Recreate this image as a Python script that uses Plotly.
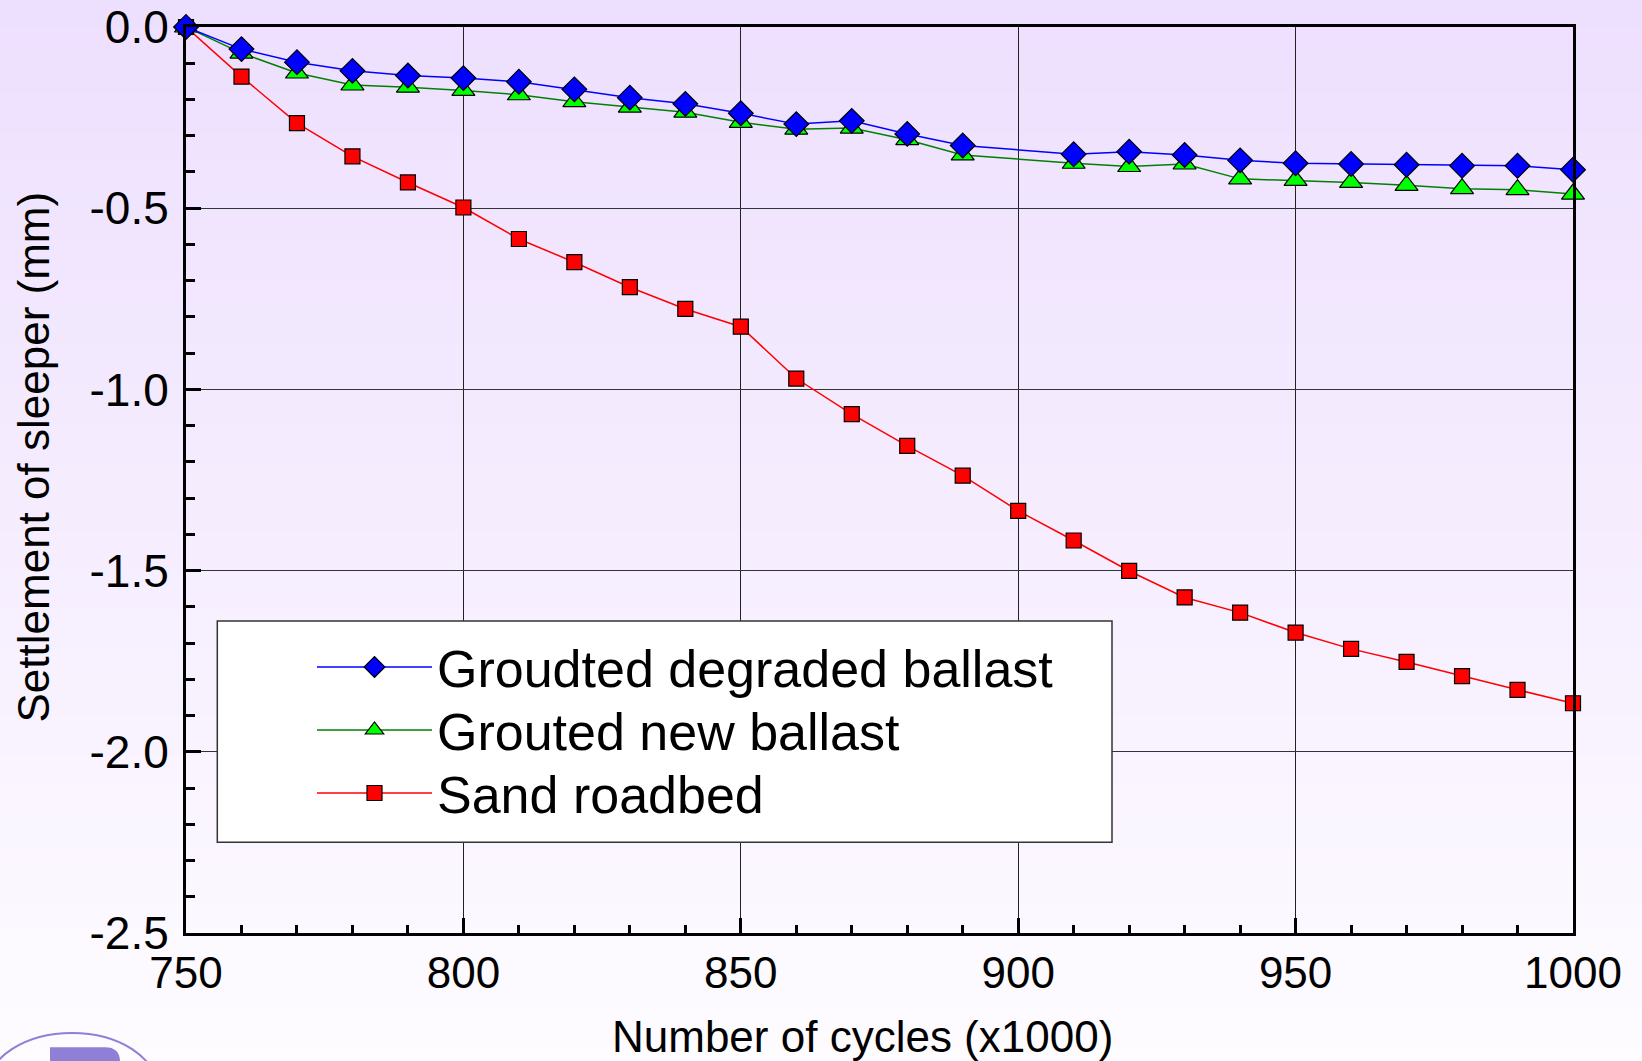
import plotly.graph_objects as go

# ---- data ----
x_grouted = [750, 760, 770, 780, 790, 800, 810, 820, 830, 840, 850, 860, 870, 880, 890,
             910, 920, 930, 940, 950, 960, 970, 980, 990, 1000]
y_degraded = [0.0, -0.061, -0.097, -0.121, -0.134, -0.141, -0.151, -0.172, -0.195, -0.212, -0.238,
              -0.268, -0.259, -0.295, -0.327, -0.351, -0.344, -0.353, -0.368, -0.376, -0.378,
              -0.380, -0.383, -0.383, -0.394]
y_new = [0.0, -0.072, -0.127, -0.160, -0.166, -0.175, -0.187, -0.206, -0.221, -0.235, -0.263,
         -0.282, -0.279, -0.311, -0.353, -0.376, -0.385, -0.378, -0.419, -0.423, -0.429,
         -0.437, -0.446, -0.449, -0.461]
x_sand = [750, 760, 770, 780, 790, 800, 810, 820, 830, 840, 850, 860, 870, 880, 890, 900,
          910, 920, 930, 940, 950, 960, 970, 980, 990, 1000]
y_sand = [0.0, -0.137, -0.265, -0.357, -0.429, -0.498, -0.585, -0.649, -0.718, -0.778, -0.827,
          -0.970, -1.068, -1.156, -1.238, -1.335, -1.417, -1.501, -1.574, -1.616, -1.671,
          -1.716, -1.752, -1.791, -1.829, -1.866]

names = ["Groudted degraded ballast", "Grouted new ballast", "Sand roadbed"]
x_title = "Number of cycles (x1000)"
y_title = "Settlement of sleeper (mm)"
x_tick_vals = [750, 800, 850, 900, 950, 1000]
x_tick_text = ["750", "800", "850", "900", "950", "1000"]
y_tick_vals = [0.0, -0.5, -1.0, -1.5, -2.0, -2.5]
y_tick_text = ["0.0", "-0.5", "-1.0", "-1.5", "-2.0", "-2.5"]

FONT = "Liberation Sans, Arial, sans-serif"
W, H = 1642, 1061
ML, MR, MT, MB = 186, 69, 27, 128
PW, PH = W - ML - MR, H - MT - MB


def px(x):
    return (x - ML) / PW


def py(y):
    return (H - MB - y) / PH


fig = go.Figure()
fig.add_trace(go.Scatter(x=x_sand, y=y_sand, name=names[2], mode="lines+markers", legend="legend3",
                         line=dict(color="#FF0000", width=1.5), cliponaxis=False,
                         marker=dict(symbol="square", size=15, color="#FF0000",
                                     line=dict(color="#000000", width=1.2))))
fig.add_trace(go.Scatter(x=x_grouted, y=y_new, name=names[1], mode="lines+markers", legend="legend2",
                         line=dict(color="#008000", width=1.5), cliponaxis=False,
                         marker=dict(symbol="triangle-up", size=20, color="#00FF00",
                                     line=dict(color="#000000", width=1.2))))
fig.add_trace(go.Scatter(x=x_grouted, y=y_degraded, name=names[0], mode="lines+markers", legend="legend",
                         line=dict(color="#0000FF", width=1.5), cliponaxis=False,
                         marker=dict(symbol="diamond", size=19, color="#0000FF",
                                     line=dict(color="#000000", width=1.2))))

shapes = []
# background gradient (lavender top -> white bottom)
N = 80
c0 = (237, 223, 254)
c1 = (254, 252, 255)
for i in range(N):
    t = (i + 0.5) / N
    col = tuple(round(c0[k] + (c1[k] - c0[k]) * t) for k in range(3))
    shapes.append(dict(type="rect", xref="paper", yref="paper", layer="below",
                       x0=px(0), x1=px(W), y0=py(H * i / N), y1=py(H * (i + 1) / N + 1),
                       fillcolor="rgb(%d,%d,%d)" % col, line=dict(width=0)))
# legend box
shapes.append(dict(type="rect", xref="paper", yref="paper", layer="above",
                   x0=px(217.3), x1=px(1112), y0=py(842.3), y1=py(621),
                   fillcolor="#FFFFFF", line=dict(color="#333333", width=1.5)))
# logo fragment bottom-left
shapes.append(dict(type="circle", xref="paper", yref="paper", layer="above",
                   x0=px(-13), x1=px(157), y0=py(1143), y1=py(1033),
                   line=dict(color="#8E80D8", width=2.2), fillcolor="rgba(0,0,0,0)"))
shapes.append(dict(type="path", xref="paper", yref="paper", layer="above",
                   path="M %f %f L %f %f L %f %f Q %f %f %f %f L %f %f Z" % (
                       px(50), py(1075), px(50), py(1047.3), px(105), py(1047.3),
                       px(120), py(1047.3), px(120), py(1062), px(120), py(1075)),
                   fillcolor="#8E80D6", line=dict(width=0)))


def leg(top):
    return dict(x=px(312), y=py(top), xanchor="left", yanchor="top",
                bgcolor="rgba(0,0,0,0)", borderwidth=0,
                font=dict(size=52, family=FONT, color="#000000"), itemwidth=115)


fig.update_layout(
    width=W, height=H,
    margin=dict(l=ML, r=MR, t=MT, b=MB, autoexpand=False),
    paper_bgcolor="#FFFFFF", plot_bgcolor="rgba(0,0,0,0)",
    font=dict(family=FONT, color="#000000"),
    showlegend=True,
    legend=leg(626.7), legend2=leg(689.7), legend3=leg(752.7),
    shapes=shapes,
    annotations=[
        dict(text=x_title, xref="paper", yref="paper", x=px(862.4), y=py(1036),
             xanchor="center", yanchor="middle", showarrow=False,
             font=dict(size=44, family=FONT)),
        dict(text=y_title, xref="paper", yref="paper", x=px(32.5), y=py(457),
             xanchor="center", yanchor="middle", showarrow=False, textangle=-90,
             font=dict(size=44, family=FONT)),
    ],
)

fig.update_xaxes(range=[750, 1000], tickvals=x_tick_vals, ticktext=x_tick_text, showgrid=True,
                 gridcolor="#222222", gridwidth=1.2, zeroline=False, showline=True,
                 linecolor="#000000", linewidth=3, mirror=True, ticks="inside", ticklen=15,
                 tickwidth=2.5, tickcolor="#000000",
                 tickfont=dict(size=44, family=FONT), ticklabelstandoff=-1,
                 minor=dict(dtick=10, tick0=750, ticks="inside", ticklen=8, tickwidth=2.5,
                            tickcolor="#000000", showgrid=False),
                 automargin=False)
fig.update_yaxes(range=[-2.5, 0], tickvals=y_tick_vals, ticktext=y_tick_text, showgrid=True,
                 gridcolor="#333333", gridwidth=1.2, zeroline=False, showline=True,
                 linecolor="#000000", linewidth=3, mirror=True, ticks="inside", ticklen=15,
                 tickwidth=2.5, tickcolor="#000000", tickfont=dict(size=46, family=FONT),
                 ticklabelstandoff=5,
                 minor=dict(dtick=0.1, tick0=0, ticks="inside", ticklen=9, tickwidth=2.5,
                            tickcolor="#000000", showgrid=False),
                 automargin=False)

fig.write_html("out.html", config={"displayModeBar": False},
               post_script="document.body.style.margin='0px';"
                           "document.body.style.overflow='hidden';")
